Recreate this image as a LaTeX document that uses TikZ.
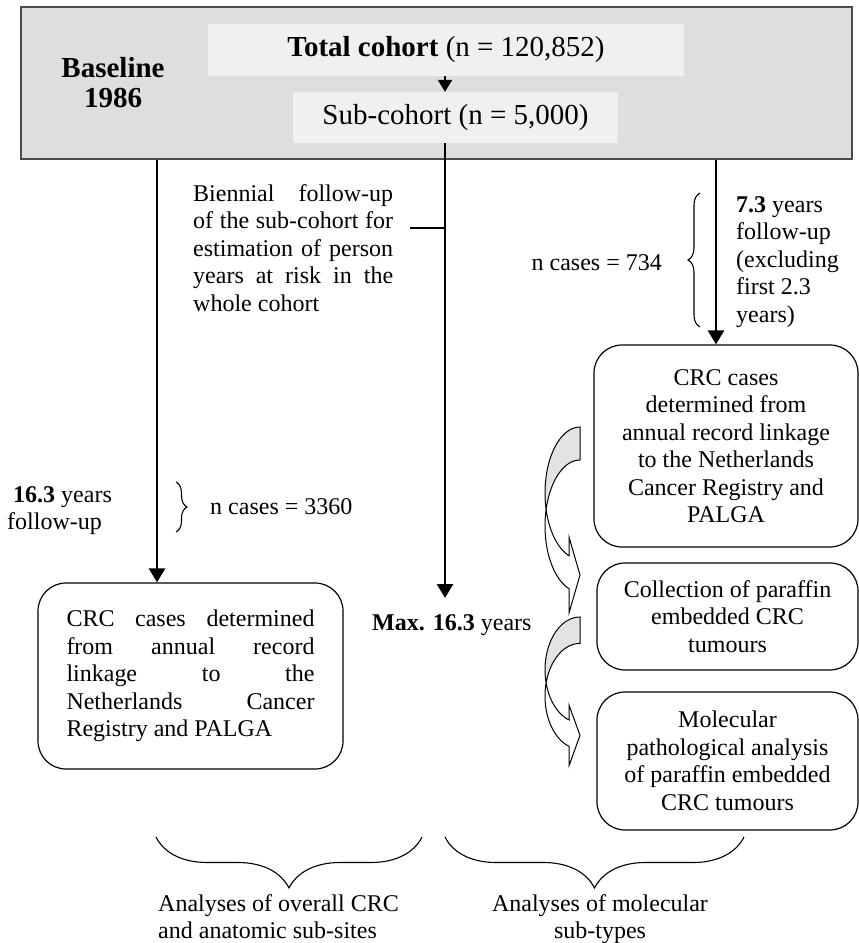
\documentclass[tikz,border=0pt]{standalone}
\usepackage{fontspec}
\setmainfont{Liberation Serif}
\usetikzlibrary{arrows.meta,decorations.pathreplacing}
\definecolor{basegrey}{gray}{0.87}
\definecolor{cohortgrey}{gray}{0.94}
\definecolor{bendgrey}{gray}{0.89}
\definecolor{edgegrey}{gray}{0.3}
\tikzset{
  fig/.style={x=1pt,y=-1pt,font=\fontsize{24}{27.5}\selectfont},
  basebox/.style={draw=edgegrey,fill=basegrey,line width=1.5pt,inner sep=0pt,
                  minimum width=831pt,minimum height=152pt},
  cohortbox/.style={fill=cohortgrey,inner sep=0pt,font=\fontsize{29}{33}\selectfont},
  rbox/.style={draw,rounded corners=28pt,line width=1.2pt,align=center,inner sep=0pt},
  arr/.style={-{Triangle[length=14pt,width=16pt]},line width=2.6pt},
  arrsmall/.style={-{Triangle[length=12pt,width=14pt]},line width=2.2pt},
  lbl/.style={inner sep=0pt},
  brc/.style={decorate,decoration={brace,amplitude=#1},line width=1.1pt},
}

\begin{document}
\begin{tikzpicture}[fig]
\useasboundingbox (0,0) rectangle (859,943);

% --- baseline block
\node[basebox] (base) at (436.5,83) {};
\node[lbl,font=\fontsize{29}{30}\selectfont\bfseries,align=center] (year) at (113,83)
     {Baseline\\1986};
\node[cohortbox,minimum width=476pt,minimum height=52pt] (tot) at (446,50)
     {\textbf{Total cohort} (n = 120,852)};
\node[cohortbox,minimum width=325pt,minimum height=51pt] (sub) at (455.5,117.5)
     {Sub-cohort (n = 5,000)};

% --- where the three follow-up lines run
\coordinate (lx) at (157,0);
\coordinate (rx) at (716,0);
\coordinate (midend) at (445,598);

% --- boxes
\node[rbox,minimum width=305pt,minimum height=186pt,text width=248pt,
      inner xsep=28.5pt,align=justify] (crcall) at (190.5,676)
     {CRC cases determined\linebreak from annual record\linebreak linkage to the\linebreak
      Netherlands Cancer\linebreak Registry and PALGA};
\node[rbox,minimum width=264pt,minimum height=202pt] (crcsub) at (726,446)
     {CRC cases\\determined from\\annual record linkage\\to the Netherlands\\Cancer Registry and\\PALGA};
\node[rbox,minimum width=261pt,minimum height=107pt] (coll) at (727.5,616.5)
     {Collection of paraffin\\embedded CRC\\tumours};
\node[rbox,minimum width=261pt,minimum height=138pt] (mol) at (727.5,761)
     {Molecular\\pathological analysis\\of paraffin embedded\\CRC tumours};

% --- follow-up arrows
\draw[arrsmall] (tot.south -| midend) -- (sub.north -| midend);
\draw[arr] (base.south -| lx) -- (crcall.north -| lx);
\draw[arr] (sub.south -| midend) -- (midend);
\draw[arr] (base.south -| rx) -- (crcsub.north -| rx);

% --- labels along the arrows
\node[lbl,anchor=north west,text width=200pt,align=justify] (bien) at (193,184)
     {Biennial follow-up\linebreak of the sub-cohort for\linebreak estimation of person\linebreak
      years at risk in the\linebreak whole cohort};
\coordinate (bienlink) at (410,228);
\draw[line width=1.2pt] (bienlink) -- (bienlink -| midend);

\node[lbl,anchor=west] (maxyrs) at (372,625) {\textbf{Max. 16.3} years};
\node[lbl,anchor=north west,align=left] (fuall) at (7,486)
     {\hspace*{6pt}\textbf{16.3} years\\follow-up};
\node[lbl,anchor=west] (nall) at (210,507) {n cases = 3360};
\draw[brc=11pt] (176,482) -- (176,532);

\node[lbl,anchor=north west,align=left] (fusub) at (736,196)
     {\textbf{7.3} years\\follow-up\\(excluding\\first 2.3\\years)};
\node[lbl,anchor=east] (nsub) at (662,263) {n cases = 734};
\draw[brc=12pt] (700,327) -- (700,193);

% --- curved arrows between the case boxes
\foreach \ty/\sy in {427/1,617/0.8}{
  \begin{scope}[shift={(580,\ty)},yscale=\sy]
    \filldraw[fill=bendgrey,line width=1pt]
      plot[domain=90:194.48,samples=30,variable=\t] ({35*cos(\t)},{66-66*sin(\t)})
      -- plot[domain=165.52:90,samples=30,variable=\t] ({35*cos(\t)},{99-66*sin(\t)})
      -- cycle;
    \filldraw[fill=white,line width=1pt]
      plot[domain=165.52:251.68,samples=30,variable=\t] ({35*cos(\t)},{99-66*sin(\t)})
      -- (-11,186) -- (0,148) -- (-11,110)
      -- plot[domain=251.68:194.48,samples=30,variable=\t] ({35*cos(\t)},{66-66*sin(\t)})
      -- cycle;
  \end{scope}
}

% --- analyses
\draw[brc=51pt] (422,837) -- (156,837);
\draw[brc=51pt] (744,837) -- (445,837);
\node[lbl,anchor=north west,align=left] (anall) at (158,894)
     {Analyses of overall CRC\\and anatomic sub-sites};
\node[lbl,anchor=north,align=center] (ansub) at (600,894)
     {Analyses of molecular\\sub-types};

\end{tikzpicture}
\end{document}
